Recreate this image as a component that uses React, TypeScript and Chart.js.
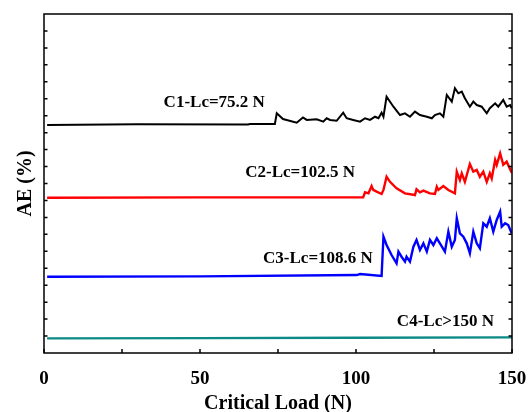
import React, { useEffect, useRef } from "react";
import { Chart, registerables } from "chart.js";

Chart.register(...registerables);

const c1Load = [1, 29.8, 65.4, 66, 74.0, 74.6, 76.6, 81.0, 83.0, 84.2, 87.4, 89.5, 90.6, 91.7, 93.8, 95.9, 97.0, 99.1, 101.3, 102.9, 104.5, 106.1, 107.2, 108.2, 108.8, 109.8, 112.0, 114.1, 115.7, 117.3, 118.9, 120.5, 122.7, 124.3, 125.3, 126.9, 128.0, 129.1, 130.7, 131.7, 132.8, 133.9, 134.9, 136.5, 137.6, 138.7, 140.3, 141.9, 142.9, 144.6, 145.6, 147.2, 148.3, 149.4, 149.9];
const c1AE = [13.45, 13.5, 13.48, 13.51, 13.51, 14.14, 13.8, 13.59, 13.9, 13.75, 13.79, 13.65, 13.85, 13.75, 13.7, 14.18, 13.85, 13.75, 13.65, 13.85, 13.75, 13.94, 13.85, 14.18, 13.94, 15.12, 14.53, 14.04, 14.14, 13.94, 14.24, 14.04, 13.94, 13.85, 14.04, 14.14, 13.94, 15.22, 14.83, 15.62, 15.32, 15.42, 15.03, 14.53, 14.83, 14.63, 14.53, 14.14, 14.44, 14.73, 14.53, 14.93, 14.53, 14.63, 14.44];

const c2Load = [1, 50, 102.3, 102.9, 104.0, 105.0, 105.5, 106.6, 108.2, 108.8, 109.8, 110.9, 113.0, 115.7, 118.9, 119.4, 120.5, 121.6, 123.7, 125.3, 125.9, 126.4, 128.0, 129.6, 131.7, 132.3, 133.3, 133.9, 134.9, 136.5, 137.6, 138.7, 139.7, 140.8, 141.9, 142.9, 143.5, 144.6, 145.1, 146.2, 147.2, 148.3, 149.9];
const c2AE = [9.16, 9.18, 9.18, 9.48, 9.42, 9.85, 9.62, 9.52, 9.38, 9.62, 10.4, 10.1, 9.72, 9.42, 9.32, 9.66, 9.48, 9.58, 9.42, 9.38, 9.81, 9.62, 9.85, 9.62, 9.42, 10.7, 10.2, 10.6, 10.1, 11.15, 10.7, 10.8, 10.4, 10.7, 10.1, 10.6, 10.3, 11.39, 11.1, 11.78, 11.1, 11.29, 10.64];

const c3Load = [1, 50, 100.2, 101.3, 108.2, 108.8, 109.8, 111.4, 113.0, 113.6, 114.6, 115.7, 116.2, 117.3, 118.4, 119.4, 120.5, 121.6, 122.7, 123.7, 124.8, 125.9, 126.9, 128.5, 129.6, 130.7, 131.7, 132.3, 133.3, 134.4, 135.5, 136.5, 137.6, 138.7, 139.7, 140.8, 141.9, 142.9, 144.0, 145.1, 146.2, 146.7, 147.8, 148.8, 149.9];
const c3AE = [4.5, 4.52, 4.6, 4.66, 4.54, 6.86, 6.37, 5.78, 5.29, 5.98, 5.68, 5.39, 5.68, 5.39, 6.27, 6.67, 6.08, 6.47, 5.98, 6.67, 6.37, 6.77, 6.47, 5.98, 7.16, 6.27, 6.67, 7.95, 7.06, 6.86, 6.47, 5.88, 7.16, 6.47, 6.18, 7.65, 7.45, 7.95, 7.16, 7.85, 8.34, 7.45, 7.65, 7.55, 7.06];

const c4Load = [1, 50, 100, 150];
const c4AE = [0.86, 0.88, 0.9, 0.92];

const seriesColors = ["#000000", "#ff0000", "#0000ff", "#0b8a86"];

const labelTexts = ["C1-Lc=75.2 N", "C2-Lc=102.5 N", "C3-Lc=108.6 N", "C4-Lc>150 N"];
const labelLoads = [70.8, 99.7, 105.4, 144.2];
const labelAE = [14.53, 10.4, 5.31, 1.59];

const xTickValues = [0, 50, 100, 150];
const xMinorTicks = [25, 75, 125];
const yTickValues = [1, 2, 3, 4, 5, 6, 7, 8, 9, 10, 11, 12, 13, 14, 15, 16, 17, 18, 19];

const FONT = "'Liberation Serif', 'Times New Roman', serif";

const toPoints = (xs: number[], ys: number[]) => xs.map((x, i) => ({ x, y: ys[i] }));

const overlayPlugin = {
  id: "overlay",
  afterDatasetsDraw(chart: any) {
    const { ctx, chartArea, scales } = chart;
    const { left, right, top, bottom } = chartArea;
    const xs = scales.x;
    const ys = scales.y;
    ctx.save();
    ctx.strokeStyle = "#000";
    ctx.lineWidth = 1.5;
    ctx.strokeRect(left, top, right - left, bottom - top);
    ctx.beginPath();
    [...xTickValues, ...xMinorTicks].forEach((v) => {
      const px = xs.getPixelForValue(v);
      ctx.moveTo(px, bottom);
      ctx.lineTo(px, bottom - 4);
    });
    yTickValues.forEach((v) => {
      const py = ys.getPixelForValue(v);
      ctx.moveTo(left, py);
      ctx.lineTo(left + 3.5, py);
      ctx.moveTo(right, py);
      ctx.lineTo(right - 3.5, py);
    });
    ctx.stroke();
    ctx.fillStyle = "#000";
    ctx.font = `bold 17px ${FONT}`;
    ctx.textAlign = "right";
    ctx.textBaseline = "alphabetic";
    labelTexts.forEach((t, i) => {
      ctx.fillText(t, xs.getPixelForValue(labelLoads[i]), ys.getPixelForValue(labelAE[i]));
    });
    ctx.restore();
  },
};

export default function App() {
  const ref = useRef<HTMLCanvasElement | null>(null);
  useEffect(() => {
    if (!ref.current) return;
    const series = [
      toPoints(c1Load, c1AE),
      toPoints(c2Load, c2AE),
      toPoints(c3Load, c3AE),
      toPoints(c4Load, c4AE),
    ];
    const chart = new Chart(ref.current, {
      type: "line",
      data: {
        datasets: series.map((d, i) => ({
          data: d,
          borderColor: seriesColors[i],
          borderWidth: i === 0 ? 2 : 2.4,
          pointRadius: 0,
          tension: 0,
          fill: false,
        })),
      },
      options: {
        responsive: false,
        animation: false,
        layout: { padding: { top: 14, right: 16, left: 0, bottom: 0 } },
        plugins: { legend: { display: false }, tooltip: { enabled: false } },
        scales: {
          x: {
            type: "linear",
            min: 0,
            max: 150,
            afterBuildTicks: (s: any) => {
              s.ticks = xTickValues.map((v) => ({ value: v }));
            },
            afterFit: (s: any) => {
              s.height = 59;
              s.paddingLeft = 0;
              s.paddingRight = 0;
            },
            grid: { display: false, drawTicks: false },
            border: { display: false },
            ticks: {
              color: "#000",
              padding: 15,
              font: { family: FONT, size: 19, weight: "bold" },
              maxRotation: 0,
            },
            title: {
              display: true,
              text: "Critical Load (N)",
              color: "#000",
              font: { family: FONT, size: 20, weight: "bold", lineHeight: 1 },
              padding: { top: 0, bottom: -2 },
            },
          },
          y: {
            type: "linear",
            min: 0,
            max: 20,
            afterFit: (s: any) => {
              s.width = 44;
              s.paddingTop = 0;
              s.paddingBottom = 0;
            },
            grid: { display: false, drawTicks: false },
            border: { display: false },
            ticks: { display: false },
            title: {
              display: true,
              text: "AE (%)",
              color: "#000",
              font: { family: FONT, size: 20, weight: "bold", lineHeight: 1 },
              padding: { top: 16, bottom: 0 },
            },
          },
        },
      },
      plugins: [overlayPlugin],
    });
    return () => chart.destroy();
  }, []);
  return (
    <div style={{ position: "absolute", left: 0, top: 0, width: 528, height: 412, background: "#fff" }}>
      <canvas ref={ref} width={528} height={412} style={{ display: "block" }} />
    </div>
  );
}
